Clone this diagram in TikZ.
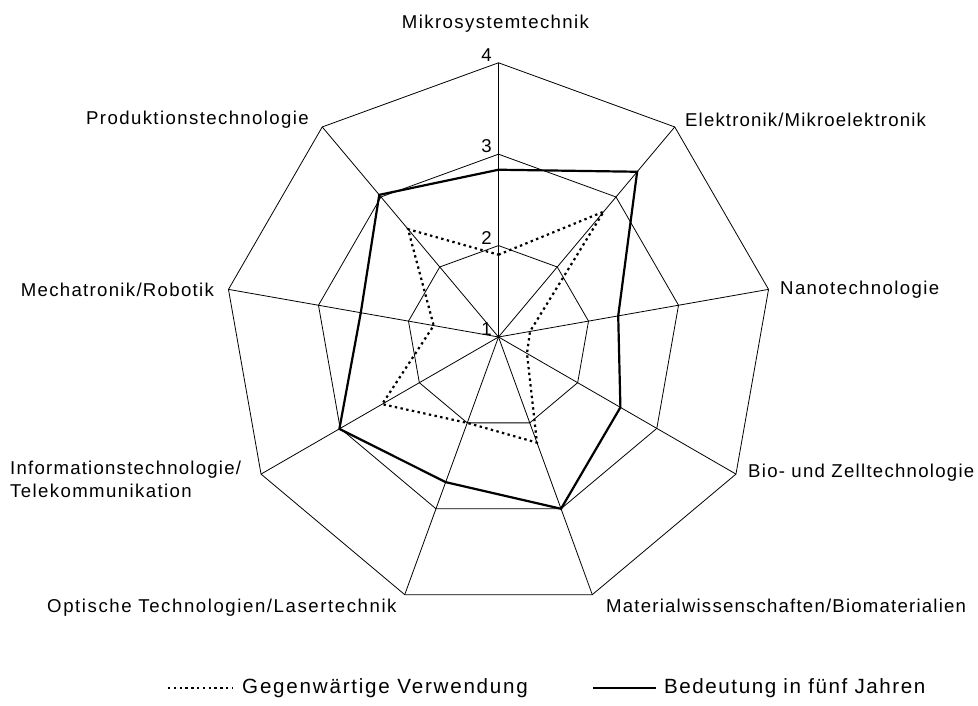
\documentclass[tikz,border=0pt]{standalone}
\usepackage{fontspec}
\setmainfont{Liberation Sans}[LetterSpace=7.5]
\begin{document}
\begin{tikzpicture}[x=1pt,y=1pt,
  grid/.style={draw=black,line width=0.8pt,line join=miter},
  futureline/.style={draw=black,line width=2.2pt,line join=miter},
  currentline/.style={draw=black,line width=2.2pt,dash pattern=on 2.4pt off 3.4pt},
  lbl/.style={inner sep=0pt,font=\fontsize{18.6}{22}\selectfont},
  leglbl/.style={inner sep=0pt,anchor=base west,font=\fontsize{20.6}{24}\selectfont},
  scalelbl/.style={inner sep=0pt,anchor=base east,font=\fontsize{18.6}{22}\selectfont}]
\useasboundingbox (0,0) rectangle (978,706);
\fill[white] (0,0) rectangle (978,706);
\begin{scope}[shift={(498.5,369)}]
  % spokes
  \foreach \k in {0,...,8} \draw[grid] (0,0) -- ({90-40*\k}:274.2);
  % rings
  \foreach \r in {91.4,182.8,274.2}
    \draw[grid] (90:\r) \foreach \k in {1,...,8} { -- ({90-40*\k}:\r) } -- cycle;
  % scale labels
  \node[scalelbl] (s1) at (-6.5,1.5) {1};
  \node[scalelbl] (s2) at (-6.5,92.9) {2};
  \node[scalelbl] (s3) at (-6.5,184.3) {3};
  \node[scalelbl] (s4) at (-6.5,275.7) {4};
  % Bedeutung in fuenf Jahren
  \draw[futureline]
    (90:{91.4*(2.83-1)}) -- (50:{91.4*(3.36-1)}) -- (10:{91.4*(2.33-1)})
    -- (-30:{91.4*(2.54-1)}) -- (-70:{91.4*(3.00-1)}) -- (-110:{91.4*(2.69-1)})
    -- (-150:{91.4*(3.01-1)}) -- (-190:{91.4*(2.53-1)}) -- (-230:{91.4*(3.03-1)}) -- cycle;
  % Gegenwaertige Verwendung
  \draw[currentline]
    (90:{91.4*(1.90-1)}) -- (50:{91.4*(2.79-1)}) -- (10:{91.4*(1.35-1)})
    -- (-30:{91.4*(1.36-1)}) -- (-70:{91.4*(2.23-1)}) -- (-110:{91.4*(2.00-1)})
    -- (-150:{91.4*(2.47-1)}) -- (-190:{91.4*(1.72-1)}) -- (-230:{91.4*(2.54-1)}) -- cycle;
\end{scope}
% axis labels (pixel baselines converted: y = 706 - baseline)
\node[lbl,anchor=base] (mikro) at (495.5,{706-28.3}) {Mikrosystemtechnik};
\node[lbl,anchor=base west] (elek) at (685,{706-127}) {\addfontfeatures{LetterSpace=6.2}Elektronik/Mikroelektronik};
\node[lbl,anchor=base west] (nano) at (780,{706-295}) {Nanotechnologie};
\node[lbl,anchor=base west] (bio) at (748,{706-478}) {\addfontfeatures{LetterSpace=6.8}Bio- und Zelltechnologie};
\node[lbl,anchor=base west] (mat) at (606,{706-613}) {\addfontfeatures{LetterSpace=6.5}Materialwissenschaften/Biomaterialien};
\node[lbl,anchor=base west] (opt) at (47,{706-613}) {\addfontfeatures{LetterSpace=8.5}Optische Technologien/Lasertechnik};
\node[lbl,anchor=base west] (info) at (10,{706-475}) {\addfontfeatures{LetterSpace=6.6}Informationstechnologie/};
\node[lbl,anchor=base west] (tele) at (10,{706-498}) {Telekommunikation};
\node[lbl,anchor=base west] (mech) at (20.7,{706-296.7}) {\addfontfeatures{LetterSpace=7}Mechatronik/Robotik};
\node[lbl,anchor=base west] (prod) at (86,{706-125}) {Produktionstechnologie};
% legend
\coordinate (d1) at (168,{706-688});
\coordinate (d2) at (232,{706-688});
\draw[currentline] (d1) -- (d2);
\node[leglbl] (leg1) at (242,{706-694}) {\addfontfeatures{LetterSpace=8.6}Gegenwärtige Verwendung};
\coordinate (f1) at (593,{706-688});
\coordinate (f2) at (656,{706-688});
\draw[futureline] (f1) -- (f2);
\node[leglbl] (leg2) at (664,{706-694}) {Bedeutung in fünf Jahren};
\end{tikzpicture}
\end{document}
